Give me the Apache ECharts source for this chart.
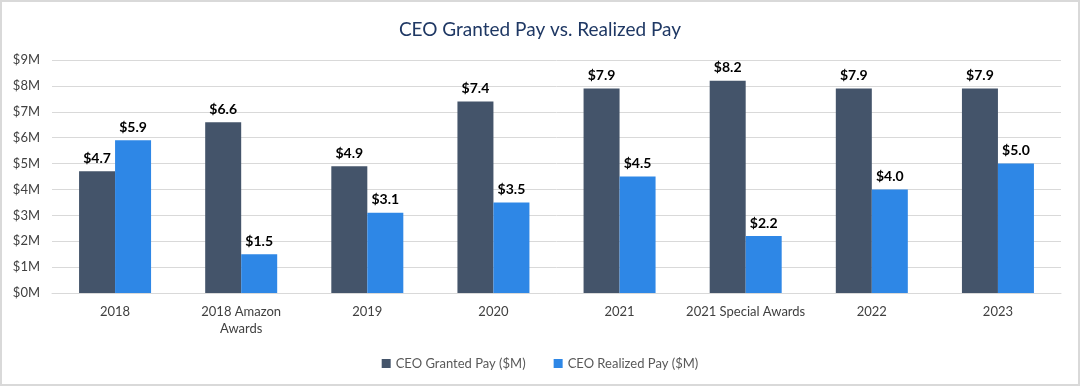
<!DOCTYPE html>
<html><head><meta charset="utf-8">
<script src="https://cdn.jsdelivr.net/npm/echarts@6/dist/echarts.min.js"></script>
<style>
html,body{margin:0;padding:0;background:#fff;}
#c{position:absolute;left:0;top:0;width:1076px;height:382px;border:2px solid #d9d9d9;}
</style></head>
<body><div id="c"></div>
<script>
const categories = ['2018', '2018 Amazon\nAwards', '2019', '2020', '2021', '2021 Special Awards', '2022', '2023'];
const grantedPay = [4.7, 6.6, 4.9, 7.4, 7.9, 8.2, 7.9, 7.9];
const realizedPay = [5.9, 1.5, 3.1, 3.5, 4.5, 2.2, 4.0, 5.0];
const seriesNames = ['CEO Granted Pay ($M)', 'CEO Realized Pay ($M)'];
const font = 'Lato, "Liberation Sans", sans-serif';
const chart = echarts.init(document.getElementById('c'));
const lbl = {show:true, position:'top', formatter: p => '$' + p.value.toFixed(1), fontFamily:font, fontWeight:'bold', fontSize:14, color:'#000', distance:6};
chart.setOption({
  animation:false,
  title:{text:'CEO Granted Pay vs. Realized Pay', left:'center', top:13, textStyle:{fontFamily:font, fontSize:19, fontWeight:'normal', color:'#1f3864'}},
  legend:{bottom:9, left:'center', itemWidth:9, itemHeight:9, itemGap:28, icon:'rect', textStyle:{fontFamily:font, fontSize:13, color:'#595959'}},
  grid:{left:50, right:17, top:58, bottom:91, containLabel:false},
  xAxis:{type:'category', data:categories, axisLine:{lineStyle:{color:'#d9d9d9'}}, axisTick:{show:false},
    axisLabel:{fontFamily:font, fontSize:13, color:'#404040', margin:10, lineHeight:17, interval:0}},
  yAxis:{type:'value', min:0, max:9, interval:1, axisLabel:{formatter:v=>'$'+v+'M', fontFamily:font, fontSize:13, color:'#404040', margin:12},
    splitLine:{lineStyle:{color:'#d9d9d9'}}, axisLine:{show:false}},
  series:[
    {name:seriesNames[0], type:'bar', data:grantedPay, barWidth:36, barGap:'0%', itemStyle:{color:'#44546a'}, label:lbl},
    {name:seriesNames[1], type:'bar', data:realizedPay, barWidth:36, itemStyle:{color:'#2e87e6'}, label:lbl}
  ]
});
</script></body></html>
